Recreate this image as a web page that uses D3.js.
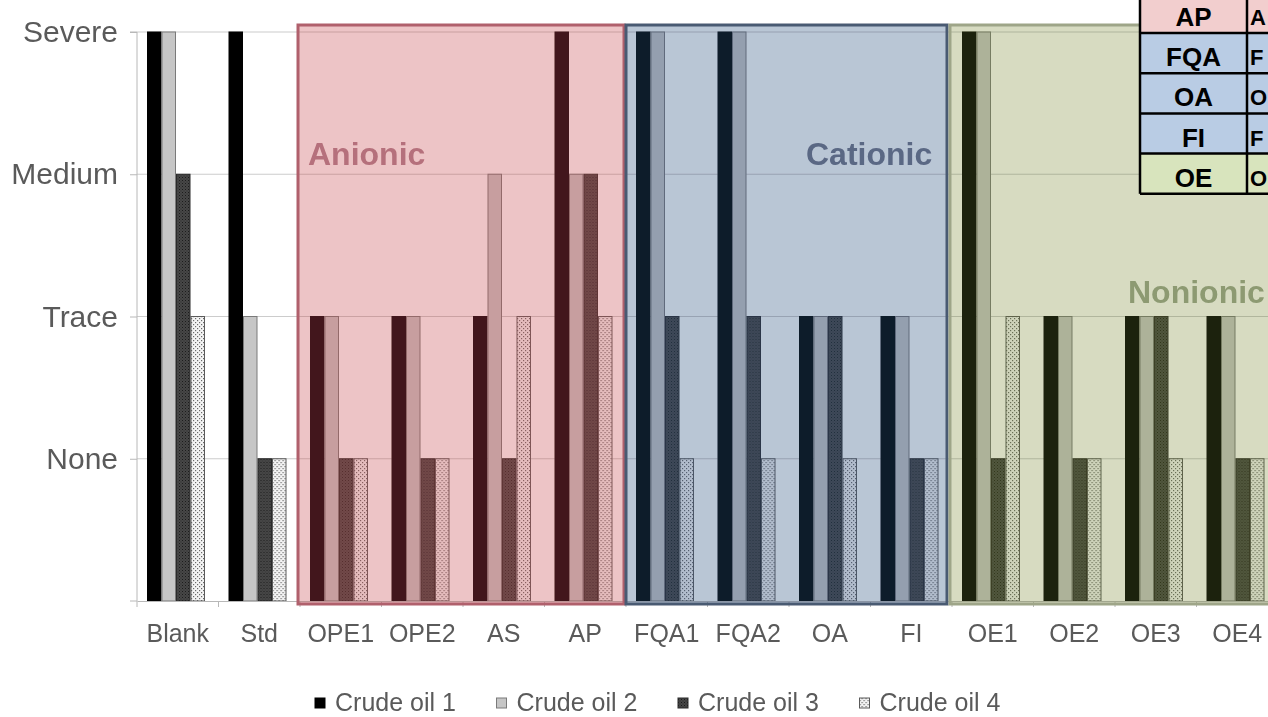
<!DOCTYPE html>
<html>
<head>
<meta charset="utf-8">
<script src="https://cdn.jsdelivr.net/npm/d3@7"></script>
<style>
  html, body { margin: 0; padding: 0; background: #fff; overflow: hidden; }
  svg { display: block; font-family: "Liberation Sans", Arial, sans-serif; }
</style>
</head>
<body>
<svg id="chart" width="1268" height="717"></svg>
<script>
// Emulsion severity per chemical treatment, one series per crude oil
const categories = ["Blank", "Std", "OPE1", "OPE2", "AS", "AP", "FQA1", "FQA2", "OA", "FI", "OE1", "OE2", "OE3", "OE4"];
const series = ["Crude oil 1", "Crude oil 2", "Crude oil 3", "Crude oil 4"];
const levelLabels = ["None", "Trace", "Medium", "Severe"];
const levelValues = [1, 2, 3, 4];

const crudeOil1 = [4, 4, 2, 2, 2, 4, 4, 4, 2, 2, 4, 2, 2, 2];
const crudeOil2 = [4, 2, 2, 2, 3, 3, 4, 4, 2, 2, 4, 2, 2, 2];
const crudeOil3 = [3, 1, 1, 1, 1, 3, 2, 2, 2, 1, 1, 1, 2, 1];
const crudeOil4 = [2, 1, 1, 1, 2, 2, 1, 1, 1, 1, 2, 1, 1, 1];

// Surfactant classes shaded over the bars
const groupNames = ["Anionic", "Cationic", "Nonionic"];
const groupFirst = ["OPE1", "FQA1", "OE1"];
const groupLast = ["AP", "FI", "OE4"];

// Abbreviation key
const keyAbbr = ["AP", "FQA", "OA", "FI", "OE"];
const keyText = ["A", "F", "O", "F", "O"];
const keyClass = ["Anionic", "Cationic", "Cationic", "Cationic", "Nonionic"];

const values = [crudeOil1, crudeOil2, crudeOil3, crudeOil4];

const svg = d3.select("#chart");
const defs = svg.append("defs");

// fill patterns for oils 3 and 4
const p3 = defs.append("pattern").attr("id", "pat3").attr("patternUnits", "userSpaceOnUse")
  .attr("width", 3).attr("height", 3);
p3.append("rect").attr("width", 3).attr("height", 3).attr("fill", "#474747");
p3.append("rect").attr("width", 1).attr("height", 1).attr("fill", "#1e1e1e");
p3.append("rect").attr("x", 1.5).attr("y", 1.5).attr("width", 1).attr("height", 1).attr("fill", "#2a2a2a");

const p4 = defs.append("pattern").attr("id", "pat4").attr("patternUnits", "userSpaceOnUse")
  .attr("width", 4).attr("height", 4);
p4.append("rect").attr("width", 4).attr("height", 4).attr("fill", "#f4f4f4");
p4.append("rect").attr("width", 1.2).attr("height", 1.2).attr("fill", "#6a6a6a");
p4.append("rect").attr("x", 2).attr("y", 2).attr("width", 1.2).attr("height", 1.2).attr("fill", "#6a6a6a");

const soft = defs.append("filter").attr("id", "soft").attr("x", "-2%").attr("y", "-2%")
  .attr("width", "104%").attr("height", "104%");
soft.append("feGaussianBlur").attr("stdDeviation", 0.6);

const seriesFill = ["#000000", "#c6c6c6", "url(#pat3)", "url(#pat4)"];
const seriesStroke = ["#000000", "#7a7a7a", "#2a2a2a", "#5a5a5a"];

const x0 = d3.scaleBand().domain(categories).range([137, 137 + 14 * 81.5]).padding(0);
const x1 = d3.scaleBand().domain(series).range([10, 68]).padding(0);
const y = d3.scaleLinear().domain([0, 4]).range([601, 32]);

const chart = svg.append("g").attr("filter", "url(#soft)");

// horizontal gridlines
chart.append("g").selectAll("line").data(levelValues).join("line")
  .attr("x1", 137).attr("x2", 1268)
  .attr("y1", d => y(d)).attr("y2", d => y(d))
  .attr("stroke", "#cccccc").attr("stroke-width", 1.2);

// bars
const groups = chart.append("g").selectAll("g").data(categories).join("g")
  .attr("transform", d => `translate(${x0(d)},0)`);
groups.selectAll("rect")
  .data((c, i) => series.map((s, k) => ({ s, k, v: values[k][i] })))
  .join("rect")
  .attr("x", d => x1(d.s) + 0.5)
  .attr("width", x1.bandwidth() - 1)
  .attr("y", d => y(d.v))
  .attr("height", d => y(0) - y(d.v))
  .attr("fill", d => seriesFill[d.k])
  .attr("stroke", d => seriesStroke[d.k])
  .attr("stroke-width", 1);

// y axis
const yAxis = d3.axisLeft(y).tickValues(levelValues).tickFormat((d, i) => levelLabels[i])
  .tickSize(7).tickPadding(12);
const ya = chart.append("g").attr("transform", "translate(137,0)").call(yAxis);
ya.select(".domain").attr("stroke", "#b8b8b8").attr("d", `M-7,${y(4)}H0V${y(0)}H-7`);
ya.selectAll(".tick line").attr("stroke", "#b8b8b8");
ya.selectAll(".tick text").attr("fill", "#5a5a5a").attr("font-size", 30)
  .attr("font-family", "Liberation Sans, Arial, sans-serif");

// x axis
const xAxis = d3.axisBottom(x0).tickSize(0).tickPadding(23);
const xa = chart.append("g").attr("transform", `translate(0,${y(0)})`).call(xAxis);
xa.select(".domain").attr("stroke", "#b8b8b8");
xa.selectAll(".tick text").attr("fill", "#5a5a5a").attr("font-size", 25)
  .attr("font-family", "Liberation Sans, Arial, sans-serif");
chart.append("g").selectAll("line").data(categories).join("line")
  .attr("x1", d => x0(d)).attr("x2", d => x0(d))
  .attr("y1", y(0)).attr("y2", y(0) + 6)
  .attr("stroke", "#b8b8b8");

// shaded surfactant classes
const boxFill = ["rgb(200,75,80)", "rgb(45,80,127)", "rgb(107,125,36)"];
const boxOpacity = [0.33, 0.33, 0.28];
const boxStroke = ["#b0606c", "#4a5a72", "#9ea588"];
const labelColor = ["#b56f7b", "#5a6884", "#8d9a72"];
const labelPos = [[308, 165], [806, 165], [1128, 303]];
const boxInset = [[-2, -2], [0, -5], [-2, 0]];

groupNames.forEach((g, i) => {
  const left = x0(groupFirst[i]) + boxInset[i][0];
  const right = Math.min(x0(groupLast[i]) + x0.bandwidth() + boxInset[i][1], 1290);
  chart.append("rect")
    .attr("x", left).attr("y", y(4) - 7)
    .attr("width", right - left).attr("height", y(0) + 3 - (y(4) - 7))
    .attr("fill", boxFill[i]).attr("fill-opacity", boxOpacity[i])
    .attr("stroke", boxStroke[i]).attr("stroke-width", 3);
  chart.append("text")
    .attr("x", labelPos[i][0]).attr("y", labelPos[i][1])
    .attr("font-size", 32).attr("font-weight", "bold")
    .attr("fill", labelColor[i]).text(g);
});

// legend
const legend = chart.append("g").selectAll("g").data(series).join("g")
  .attr("transform", (d, i) => `translate(${315 + i * 181.5},0)`);
legend.append("rect")
  .attr("x", 0).attr("y", 698).attr("width", 10).attr("height", 10)
  .attr("fill", (d, i) => seriesFill[i]).attr("stroke", (d, i) => seriesStroke[i]);
legend.append("text")
  .attr("x", 20).attr("y", 711)
  .attr("font-size", 25).attr("fill", "#5a5a5a").text(d => d);

// abbreviation key table (crisp, drawn on top)
const keyFill = { Anionic: "#f2cece", Cationic: "#b9cce4", Nonionic: "#d8e4bd" };
const rowH = 40.2, tableTop = 33 - 40.2, col0 = 1140, col1 = 1247, col2 = 1300;
const table = svg.append("g");
const rows = table.selectAll("g").data(keyAbbr).join("g")
  .attr("transform", (d, i) => `translate(0,${tableTop + i * rowH})`);
rows.append("rect").attr("x", col0).attr("width", col2 - col0).attr("height", rowH)
  .attr("fill", (d, i) => keyFill[keyClass[i]]);
rows.append("text").attr("x", (col0 + col1) / 2).attr("y", rowH - 7)
  .attr("text-anchor", "middle").attr("font-size", 26).attr("font-weight", "bold")
  .attr("fill", "#000").text(d => d);
rows.append("text").attr("x", col1 + 3).attr("y", rowH - 8)
  .attr("font-size", 22).attr("font-weight", "bold")
  .attr("fill", "#000").text((d, i) => keyText[i]);
// grid lines of the table
table.selectAll("line.h").data(d3.range(keyAbbr.length + 1)).join("line")
  .attr("x1", col0).attr("x2", col2)
  .attr("y1", i => tableTop + i * rowH).attr("y2", i => tableTop + i * rowH)
  .attr("stroke", "#000").attr("stroke-width", 2.5);
[col0, col1].forEach(cx => {
  table.append("line").attr("x1", cx).attr("x2", cx)
    .attr("y1", tableTop).attr("y2", tableTop + keyAbbr.length * rowH)
    .attr("stroke", "#000").attr("stroke-width", 2.5);
});
</script>
</body>
</html>
